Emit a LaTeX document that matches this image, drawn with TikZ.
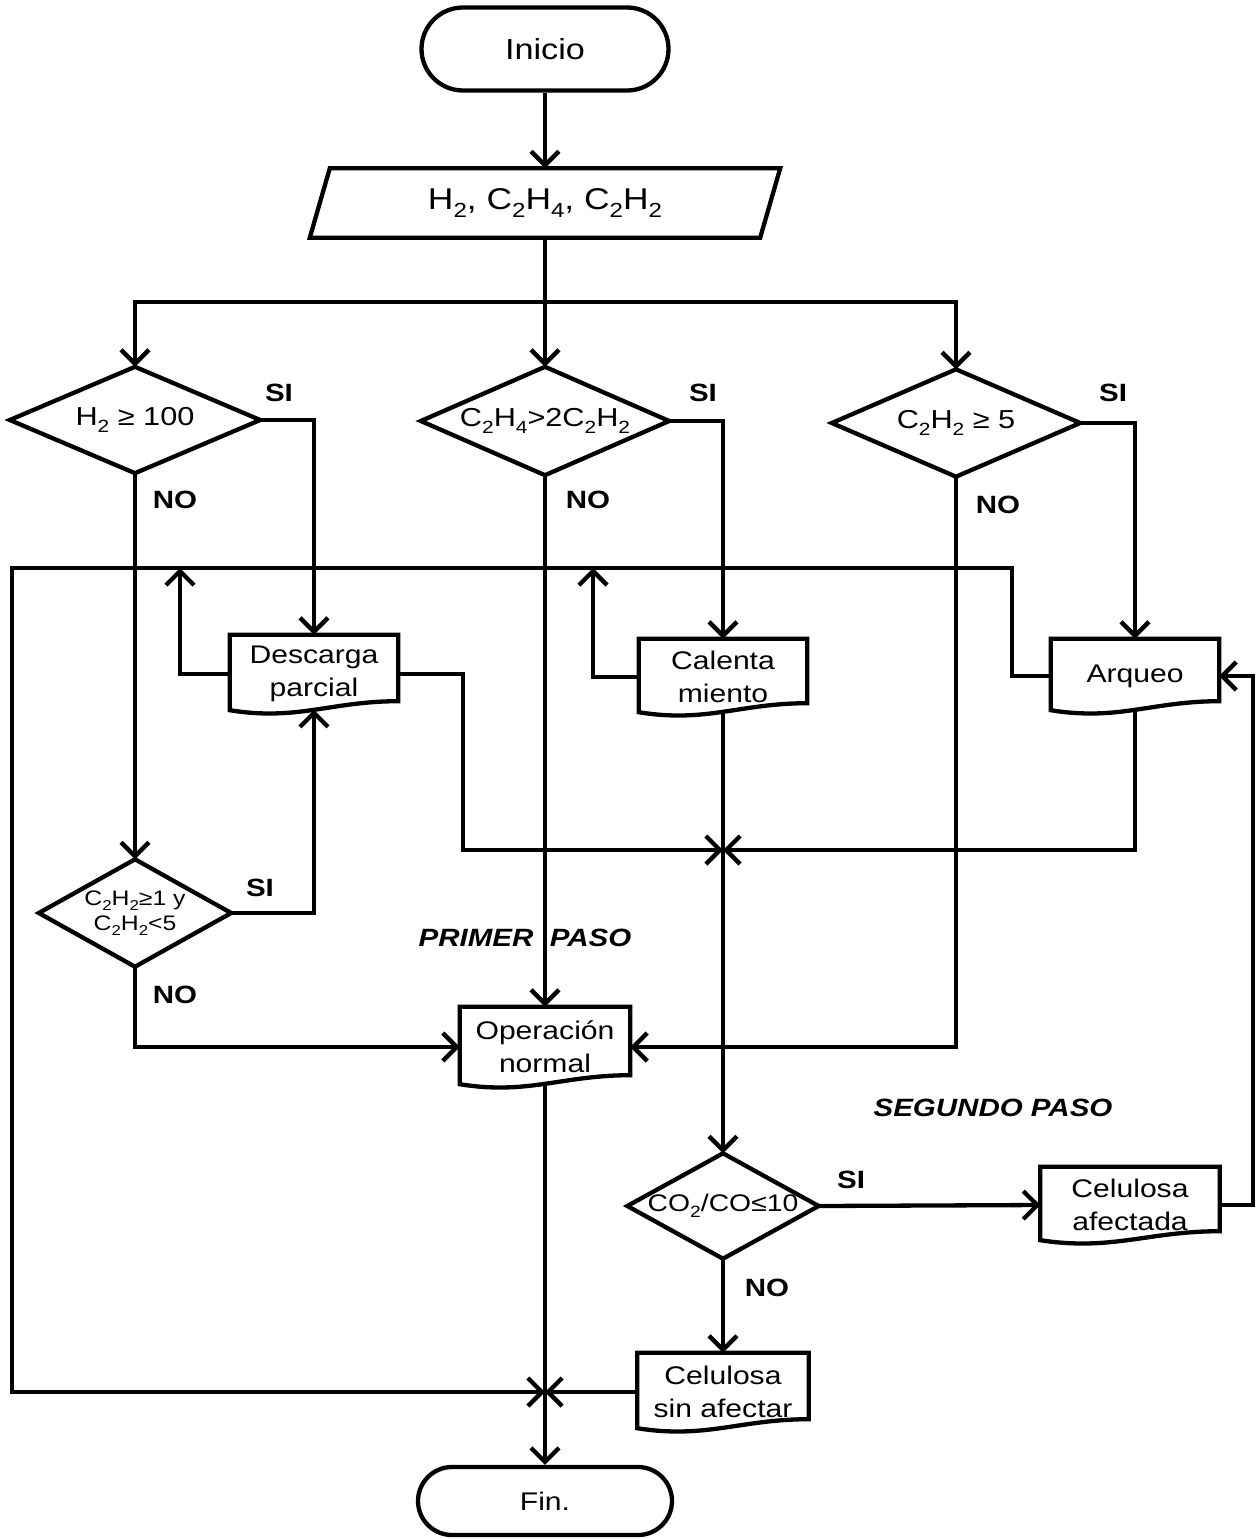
\documentclass[tikz,border=0pt]{standalone}
\usepackage{fontspec}
\usepackage{graphicx}
\setmainfont{Liberation Sans}[FakeStretch=1.18]
\usetikzlibrary{arrows.meta,calc,shapes.misc}
\newcommand\ssb[1]{\raisebox{-0.24em}{\scalebox{0.68}{#1}}}
\newcommand\docdraw[1]{\draw[outl] (#1.north west) -- (#1.north east) -- ($(#1.south east)+(0,-12)$) .. controls ($(#1.south east)!0.4!(#1.south west)+(0,-12)$) and ($(#1.south west)!0.4!(#1.south east)+(0,8)$) .. ($(#1.south west)+(0,-3)$) -- cycle;}
\newcommand\diadraw[1]{\draw[outl] (#1.north) -- (#1.east) -- (#1.south) -- (#1.west) -- cycle;}
\begin{document}
\begin{tikzpicture}[x=1pt,y=-1pt,
  outl/.style={line width=4.3pt},
  conn/.style={line width=4.3pt},
  arr/.style={conn,-{Straight Barb[length=14pt,width=28pt]}},
  box/.style={rectangle,draw=none,inner sep=0pt,align=center,font=\fontsize{25.5}{33}\selectfont},
  dia/.style={box,font=\fontsize{26}{30}\selectfont},
  term/.style={rounded rectangle,draw,line width=4.3pt,inner sep=0pt,font=\fontsize{29}{33}\selectfont},
  lbl/.style={inner sep=0pt,font=\fontsize{25}{30}\selectfont\bfseries},
  stage/.style={inner sep=0pt,font=\fontsize{25}{30}\selectfont\bfseries\itshape}]
\useasboundingbox (0,0) rectangle (1257,1539);

% nodes
\node[term,minimum width=247pt,minimum height=83pt] (start) at (545,49) {Inicio};
\node[box,minimum width=470pt,minimum height=69pt,font=\fontsize{30}{34}\selectfont] (inp) at (545,203) {H\ssb2, C\ssb2H\ssb4, C\ssb2H\ssb2};
\draw[outl] ($(inp.north west)+(20,0)$) -- (inp.north east) -- ($(inp.south east)+(-20,0)$) -- (inp.south west) -- cycle;

\node[dia,minimum width=250pt,minimum height=106pt] (d1) at (135,420) {H\ssb2 ≥ 100};
\node[dia,minimum width=248pt,minimum height=108pt] (d2) at (545,421) {C\ssb2H\ssb4>2C\ssb2H\ssb2};
\node[dia,minimum width=248pt,minimum height=107pt] (d3) at (956,423) {C\ssb2H\ssb2 ≥ 5};
\diadraw{d1}\diadraw{d2}\diadraw{d3}

\node[box,minimum width=168pt,minimum height=78pt] (desc) at (314,674) {Descarga\\parcial};
\node[box,minimum width=168pt,minimum height=76pt] (cal) at (723,677) {Calenta\\miento};
\node[box,minimum width=168pt,minimum height=74pt] (arq) at (1135,676) {Arqueo};
\docdraw{desc}\docdraw{cal}\docdraw{arq}

\node[dia,minimum width=192pt,minimum height=107pt,font=\fontsize{21}{25}\selectfont] (d4) at (135,913) {C\ssb2H\ssb2≥1 y\\C\ssb2H\ssb2<5};
\diadraw{d4}

\node[box,minimum width=170pt,minimum height=80pt] (opn) at (545,1047) {Operación\\normal};
\docdraw{opn}

\node[dia,minimum width=191pt,minimum height=105pt,font=\fontsize{24}{28}\selectfont] (d5) at (723,1206) {CO\ssb2/CO≤10};
\diadraw{d5}

\node[box,minimum width=179pt,minimum height=76pt] (caf) at (1130,1205) {Celulosa\\afectada};
\node[box,minimum width=171pt,minimum height=78pt] (csa) at (723,1392) {Celulosa\\sin afectar};
\docdraw{caf}\docdraw{csa}

\node[term,minimum width=254pt,minimum height=68pt,font=\fontsize{25.5}{30}\selectfont] (fin) at (545,1501) {Fin.};

% labels
\node[lbl] (si1) at (279,393) {SI};
\node[lbl] (si2) at (703,393) {SI};
\node[lbl] (si3) at (1113,393) {SI};
\node[lbl] (si4) at (260,888) {SI};
\node[lbl] (si5) at (851,1180) {SI};
\node[lbl] (no1) at (175,500) {NO};
\node[lbl] (no2) at (588,500) {NO};
\node[lbl] (no3) at (998,505) {NO};
\node[lbl] (no4) at (175,995) {NO};
\node[lbl] (no5) at (767,1288) {NO};
\node[stage] (p1) at (525,938) {PRIMER~~PASO};
\node[stage] (p2) at (993,1108) {SEGUNDO PASO};

% coordinates
\coordinate (sp) at (545,302);
\coordinate (lpA) at (1012,568);
\coordinate (lpB) at (12,568);
\coordinate (lpC) at (12,1392);
\coordinate (j1) at (723,850);
\coordinate (j2) at (545,1392);
\coordinate (dr) at (463,850);
\coordinate (c1) at (180,568);
\coordinate (c2) at (593,568);
\coordinate (rr) at (1253,0);

% connectors
\draw[arr] (start.south) -- (inp.north);
\draw[conn] (inp.south) -- (sp);
\draw[arr] (sp) -- (d2.north);
\draw[arr] (sp) -| (d1.north);
\draw[arr] (sp) -| (d3.north);

\draw[arr] (d1.east) -| (desc.north);
\draw[arr] (d2.east) -| (cal.north);
\draw[arr] (d3.east) -| (arq.north);

\draw[arr] (d1.south) -- (d4.north);
\draw[arr] (d2.south) -- (opn.north);
\draw[arr] (d3.south) |- (opn.east);

\draw[arr] (desc.west) -| (c1);
\draw[arr] (cal.west) -| (c2);
\draw[arr] (arq.west) -| (lpA) -- (lpB) -- (lpC) -- (j2);

\draw[arr] (desc.east) -| (dr) -- (j1);
\draw[arr] ([yshift=3.4pt]arq.south) |- (j1);
\draw[arr] ([yshift=3.4pt]cal.south) -- (d5.north);

\draw[arr] (d4.east) -| ([yshift=3.4pt]desc.south);
\draw[arr] (d4.south) |- (opn.west);

\draw[arr] (d5.east) -- (caf.west);
\draw[arr] (caf.east) -- (caf.east -| rr) |- (arq.east);
\draw[arr] (d5.south) -- (csa.north);
\draw[arr] (csa.west) -- (j2);
\draw[arr] ([yshift=3.4pt]opn.south) -- (fin.north);
\end{tikzpicture}
\end{document}
